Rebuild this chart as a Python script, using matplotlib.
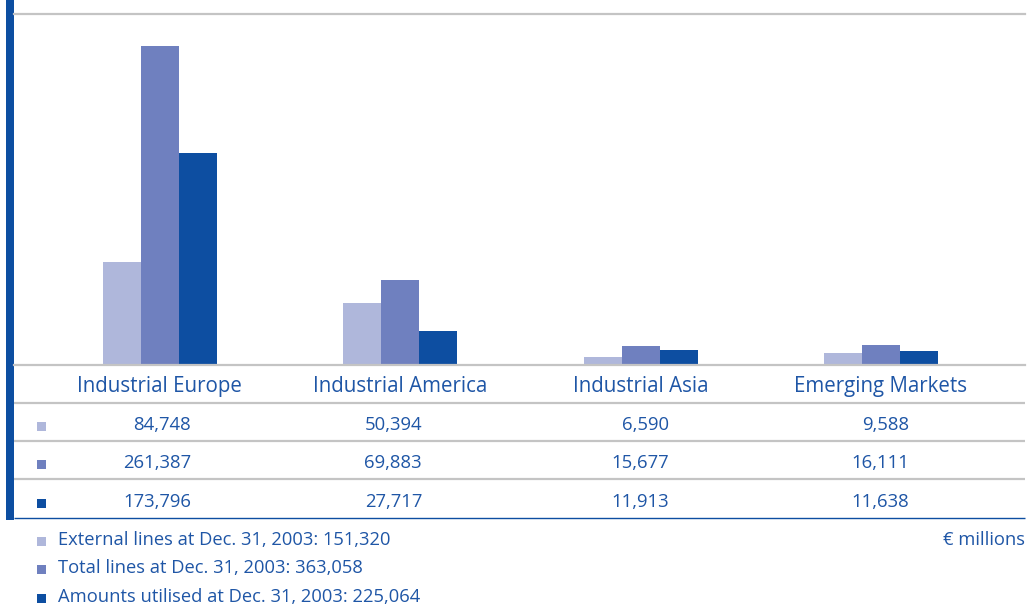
import matplotlib
matplotlib.use("Agg")
import matplotlib.pyplot as plt
from matplotlib.transforms import blended_transform_factory

# credit lines by region, EUR millions
regions = ["Industrial Europe", "Industrial America", "Industrial Asia", "Emerging Markets"]
external = [84748, 50394, 6590, 9588]
total = [261387, 69883, 15677, 16111]
utilised = [173796, 27717, 11913, 11638]
series_labels = [
    "External lines at Dec. 31, 2003: 151,320",
    "Total lines at Dec. 31, 2003: 363,058",
    "Amounts utilised at Dec. 31, 2003: 225,064",
]
unit_label = "\u20ac millions"

light = "#afb7db"
mid = "#6f80bf"
dark = "#0d4ea1"
txt = "#1f56a6"
grey = "#c4c4c4"

plt.rcParams["font.family"] = ["Open Sans", "DejaVu Sans"]

W, H = 1029, 606
fig = plt.figure(figsize=(W / 100, H / 100), dpi=100)

# overlay axes in pixel units for the table, rules and legend
tab = fig.add_axes([0, 0, 1, 1])
tab.set_xlim(0, W)
tab.set_ylim(H, 0)
tab.axis("off")

# bar axes: baseline at y=365px, top rule at y=14px
x0, x1, ytop, ybase = 14, 1025, 14, 365
ax = fig.add_axes([x0 / W, (H - ybase) / H, (x1 - x0) / W, (ybase - ytop) / H])
step = 240.5
ax.set_xlim((x0 - 159.5) / step, (x1 - 159.5) / step)
ax.set_ylim(0, 287600)
bw = 38 / step
idx = list(range(len(regions)))
ax.bar([i - bw for i in idx], external, bw, color=light, zorder=2)
ax.bar(idx, total, bw, color=mid, zorder=2)
ax.bar([i + bw for i in idx], utilised, bw, color=dark, zorder=2)
for s in ["left", "right"]:
    ax.spines[s].set_visible(False)
for s in ["top", "bottom"]:
    ax.spines[s].set_color(grey)
    ax.spines[s].set_linewidth(1.6)
    ax.spines[s].set_zorder(3)
ax.set_xticks([])
ax.set_yticks([])
ax.patch.set_alpha(0)

# table below the bars
colx = blended_transform_factory(ax.transData, tab.transData)
for i, r in enumerate(regions):
    tab.text(i, 392, r, transform=colx, ha="center", va="baseline",
             fontsize=14.8, color=txt)

right_edges = [191, 422, 669, 909]
rows = [external, total, utilised]
row_colors = [light, mid, dark]
baselines = [430, 468, 507]
for vals, c, yb in zip(rows, row_colors, baselines):
    tab.add_patch(plt.Rectangle((37, yb - 8.5), 9, 9, color=c, lw=0))
    for xr, v in zip(right_edges, vals):
        tab.text(xr, yb, f"{v:,}", ha="right", va="baseline",
                 fontsize=13.3, color=txt)

for y in [403, 441, 479]:
    tab.plot([x0, x1], [y, y], color=grey, lw=1.6, solid_capstyle="butt")
tab.plot([x0, x1], [518, 518], color=dark, lw=1.0, solid_capstyle="butt")

# blue bar on the left edge
tab.add_patch(plt.Rectangle((6, 0), 8, 520, color=dark, lw=0))

# legend
for lab, c, yb in zip(series_labels, row_colors, [545, 573, 602]):
    tab.add_patch(plt.Rectangle((37, yb - 8.5), 9, 9, color=c, lw=0))
    tab.text(58, yb, lab, ha="left", va="baseline", fontsize=13.2, color=txt)
tab.text(1025, 545, unit_label, ha="right", va="baseline", fontsize=13.2, color=txt)

fig.savefig("out.png", dpi=100)
